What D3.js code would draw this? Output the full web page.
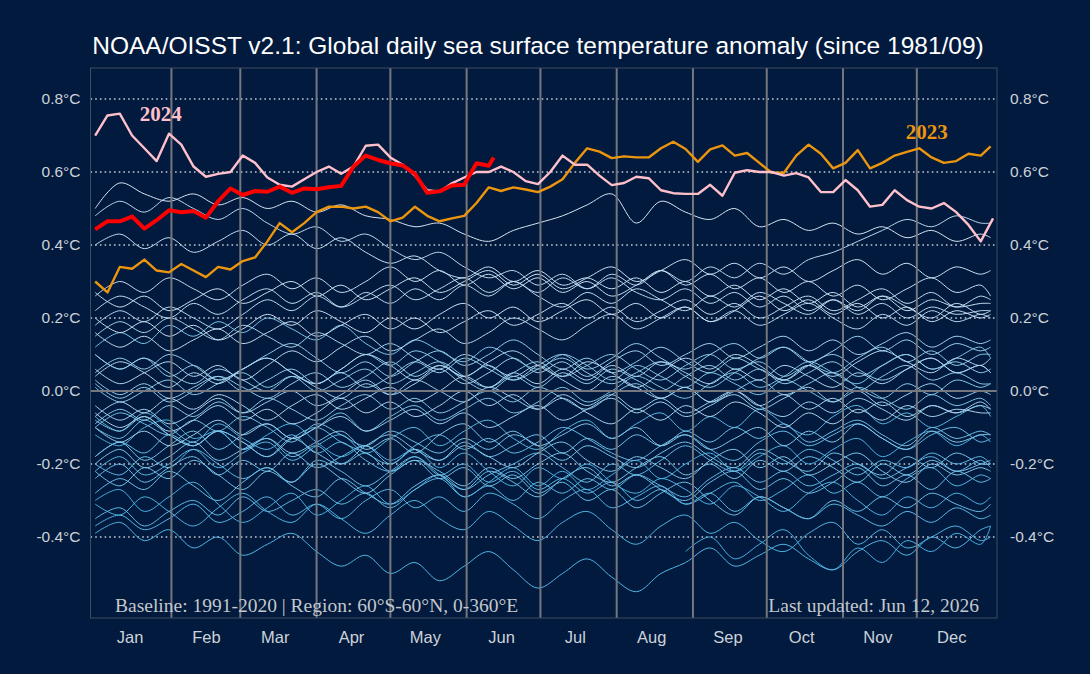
<!DOCTYPE html>
<html>
<head>
<meta charset="utf-8">
<script src="https://cdn.jsdelivr.net/npm/d3@7"></script>
<style>
  html, body { margin: 0; padding: 0; background: #011a3d; }
  svg { display: block; }
</style>
</head>
<body>
<svg id="chart" width="1090" height="674"></svg>
<script>
// ---- data (day = days since Jan 1) ----
const monthNames = ["Jan", "Feb", "Mar", "Apr", "May", "Jun", "Jul", "Aug", "Sep", "Oct", "Nov", "Dec"];
const monthStarts = [0, 31, 59, 90, 120, 151, 181, 212, 243, 273, 304, 334];
const yTicks = [-0.4, -0.2, 0, 0.2, 0.4, 0.6, 0.8];

// background years, read every 10 days, in hundredths of a degree
const bgDays = [0,10,20,30,40,50,60,70,80,90,100,110,120,130,140,150,160,170,180,190,200,210,220,230,240,250,260,270,280,290,300,310,320,330,340,350,360,364];
const bgYears = [1981, 1982, 1983, 1984, 1985, 1986, 1987, 1988, 1989, 1990, 1991, 1992, 1993, 1994, 1995, 1996, 1997, 1998, 1999, 2000,
  2001, 2002, 2003, 2004, 2005, 2006, 2007, 2008, 2009, 2010, 2011, 2012, 2013, 2014, 2015, 2016, 2017, 2018, 2019, 2020, 2021, 2022, 2025];
const N = null;
const bgCenti = [
  [N,N,N,N,N,N,N,N,N,N,N,N,N,N,N,N,N,N,N,N,N,N,N,N,-44,-40,-46,-42,-38,-45,-49,-43,-47,-41,-44,-39,-42,-37],
  [-30,-27,-33,-29,-25,-31,-36,-32,-28,-34,-30,-26,-31,-27,-23,-29,-25,-21,-26,-22,-27,-23,-19,-24,-20,-17,-22,-18,-15,-20,-16,-13,-18,-14,-11,-15,-12,-14],
  [-12,-15,-10,-8,-13,-11,-16,-12,-9,-14,-18,-15,-19,-16,-21,-17,-22,-26,-21,-24,-20,-25,-28,-24,-27,-31,-26,-29,-33,-28,-25,-30,-34,-29,-32,-28,-31,-29],
  [-31,-34,-29,-33,-37,-32,-28,-33,-36,-31,-35,-39,-34,-30,-35,-38,-33,-37,-41,-36,-33,-38,-42,-37,-34,-39,-36,-41,-44,-39,-36,-42,-38,-43,-40,-37,-41,-40],
  [-39,-36,-41,-38,-43,-40,-45,-42,-39,-44,-48,-45,-50,-47,-52,-48,-44,-49,-54,-50,-46,-51,-55,-50,-47,-43,-48,-45,-42,-46,-49,-44,-41,-45,-40,-43,-38,-37],
  [-37,-34,-38,-35,-31,-36,-33,-29,-34,-31,-35,-30,-27,-32,-29,-33,-28,-31,-35,-30,-27,-32,-29,-26,-31,-28,-25,-30,-27,-23,-28,-25,-29,-24,-21,-26,-23,-24],
  [-22,-18,-23,-20,-16,-21,-17,-14,-19,-15,-12,-17,-13,-10,-15,-11,-8,-13,-16,-11,-8,-13,-9,-6,-11,-7,-10,-5,-9,-12,-7,-4,-9,-6,-10,-7,-4,-7],
  [-7,-11,-6,-10,-14,-9,-13,-16,-12,-17,-14,-19,-22,-18,-23,-20,-25,-22,-27,-24,-28,-25,-30,-27,-31,-28,-33,-29,-32,-35,-31,-34,-37,-33,-36,-32,-35,-34],
  [-35,-32,-37,-33,-30,-34,-29,-33,-30,-27,-31,-28,-32,-27,-24,-29,-26,-30,-25,-28,-24,-27,-23,-26,-29,-24,-21,-25,-22,-26,-23,-20,-24,-21,-18,-22,-19,-21],
  [-20,-23,-18,-21,-16,-20,-24,-21,-25,-19,-22,-26,-22,-18,-23,-27,-23,-20,-17,-21,-25,-20,-23,-19,-15,-19,-22,-17,-20,-16,-19,-23,-19,-21,-17,-20,-18,-20],
  [-18,-14,-17,-12,-15,-11,-14,-18,-13,-10,-14,-17,-20,-15,-12,-16,-13,-17,-14,-10,-13,-17,-19,-15,-12,-16,-19,-14,-11,-15,-12,-9,-13,-16,-12,-10,-14,-13],
  [-10,-13,-8,-12,-15,-11,-16,-13,-18,-15,-20,-17,-22,-19,-24,-21,-26,-23,-28,-25,-30,-27,-32,-28,-25,-30,-34,-29,-32,-35,-30,-33,-29,-32,-28,-31,-33,-31],
  [-28,-24,-27,-22,-26,-30,-25,-21,-26,-29,-24,-28,-31,-26,-23,-27,-22,-25,-29,-24,-21,-26,-23,-27,-30,-25,-22,-27,-24,-28,-25,-21,-26,-23,-27,-22,-25,-24],
  [-24,-20,-25,-21,-18,-23,-19,-22,-17,-21,-18,-15,-20,-16,-19,-14,-18,-15,-12,-17,-13,-16,-12,-15,-11,-14,-10,-13,-9,-14,-11,-8,-12,-15,-10,-13,-11,-12],
  [-10,-6,-9,-12,-8,-11,-7,-10,-14,-9,-12,-15,-11,-14,-17,-13,-16,-12,-15,-19,-15,-18,-21,-17,-14,-18,-21,-16,-19,-22,-17,-20,-23,-18,-21,-17,-20,-20],
  [-22,-26,-21,-24,-19,-23,-27,-22,-25,-20,-24,-28,-23,-19,-22,-26,-21,-24,-20,-17,-22,-25,-21,-18,-23,-20,-24,-19,-22,-18,-21,-25,-20,-23,-19,-22,-20,-19],
  [-18,-14,-19,-15,-11,-16,-12,-9,-13,-10,-6,-11,-7,-4,-8,-5,-2,-6,-3,1,-3,0,4,1,-2,2,5,1,4,8,5,2,7,10,6,9,12,9],
  [12,16,13,18,15,19,16,20,17,14,18,13,10,14,11,8,12,9,6,10,7,3,7,4,1,5,2,-1,3,0,-3,1,-2,-5,-1,-4,-2,-4],
  [-8,-11,-7,-12,-15,-11,-14,-18,-13,-17,-20,-15,-12,-16,-19,-15,-18,-21,-17,-14,-19,-22,-18,-21,-24,-19,-16,-21,-18,-23,-20,-17,-22,-25,-20,-23,-21,-22],
  [-20,-16,-21,-18,-14,-19,-16,-13,-17,-14,-11,-16,-13,-17,-12,-9,-14,-11,-15,-12,-9,-13,-10,-15,-12,-16,-13,-10,-15,-11,-14,-9,-13,-16,-11,-14,-12,-12],
  [-9,-5,-8,-4,-7,-3,-6,-2,-5,-8,-4,-1,-5,-2,-6,-3,0,-3,1,-2,-5,-1,2,-2,1,-3,0,3,-1,2,5,1,-2,2,-1,3,1,2],
  [1,-3,0,3,-1,2,5,1,4,0,3,6,2,5,8,4,1,5,8,4,7,10,6,3,7,10,6,9,12,8,5,9,12,8,11,7,10,10],
  [10,6,9,4,7,3,6,9,5,2,6,10,7,11,8,4,7,3,6,9,5,2,5,8,4,1,5,8,4,7,3,0,4,7,3,5,2,2],
  [2,-2,1,-3,0,4,1,-2,2,5,1,4,8,4,7,3,0,4,1,5,2,6,3,0,4,7,3,6,2,5,8,4,7,10,6,8,5,6],
  [5,9,6,10,7,3,6,10,13,9,5,8,4,8,11,7,10,14,10,6,9,5,8,12,8,5,9,6,3,7,10,6,3,6,9,5,7,5],
  [3,-1,2,-2,1,4,0,3,6,2,5,1,4,8,5,9,6,3,7,10,6,9,13,9,6,10,13,9,12,8,11,15,11,14,10,13,11,12],
  [10,6,9,5,2,6,3,0,4,1,-2,2,-1,3,0,-3,1,-2,-5,-1,-4,-1,-5,-2,-6,-3,0,-4,-7,-3,-6,-2,-5,-8,-4,-6,-4,-5],
  [-10,-14,-11,-15,-12,-8,-12,-9,-13,-10,-7,-11,-8,-5,-9,-6,-10,-7,-4,-8,-5,-2,-6,-3,-7,-4,-1,-5,-2,1,-3,0,-4,-1,2,-2,0,-1],
  [-4,-8,-5,-9,-6,-2,-6,-3,0,-4,-1,3,-1,2,6,2,5,9,5,8,4,8,11,7,10,13,9,12,15,11,14,10,13,16,12,15,13,14],
  [15,19,16,20,17,14,18,15,12,16,13,10,13,9,6,10,7,4,7,3,0,4,1,-2,1,-3,0,-4,-1,-5,-2,-6,-3,-7,-4,-6,-3,-5],
  [-6,-10,-7,-11,-8,-4,-8,-5,-9,-6,-2,-6,-3,-7,-4,0,-4,-1,-5,-2,-6,-9,-5,-8,-4,-7,-3,-6,-10,-6,-9,-5,-8,-4,-7,-5,-6,-6],
  [-7,-3,-6,-2,-5,-1,-4,-8,-4,-1,-5,-2,1,-3,0,4,1,5,2,6,3,7,4,8,5,2,6,3,7,4,1,5,2,6,9,5,7,5],
  [4,8,5,1,5,2,6,9,5,2,6,10,7,3,7,4,8,11,7,4,8,5,1,5,9,6,10,7,3,7,4,8,11,8,5,9,7,9],
  [6,2,5,8,4,7,3,7,11,8,12,15,11,14,17,13,16,20,17,14,18,21,17,20,23,19,22,18,21,24,20,17,21,18,22,19,21,20],
  [18,22,19,23,20,17,21,25,22,26,23,27,24,28,25,29,26,30,27,31,28,32,29,33,30,34,31,35,32,36,38,41,44,47,45,48,46,46],
  [48,52,49,53,50,47,50,46,43,45,41,43,39,36,38,34,31,33,29,32,28,31,27,25,28,24,27,23,26,22,25,21,24,20,23,21,22,22],
  [22,26,23,20,24,21,25,28,24,27,23,26,29,25,28,31,27,30,26,23,27,24,28,25,22,26,23,27,24,21,25,22,26,23,20,24,21,22],
  [16,12,15,11,14,17,13,16,19,15,18,21,17,20,16,19,22,18,21,24,20,23,19,22,25,21,24,20,23,26,22,25,28,24,27,23,26,25],
  [26,30,27,31,28,25,29,32,28,31,27,30,34,30,33,29,32,28,31,27,30,26,29,33,29,32,28,31,27,30,26,29,25,28,31,27,29,26],
  [40,43,39,42,38,41,44,40,43,39,42,38,35,37,33,31,34,30,33,29,31,28,31,27,30,26,29,25,28,24,27,23,26,22,25,23,24,24],
  [20,16,19,15,18,14,17,21,18,22,19,16,20,17,21,24,20,23,19,22,25,21,24,20,23,19,22,26,22,25,21,24,20,23,19,22,20,21],
  [27,23,26,22,25,28,24,27,30,26,29,25,28,31,27,30,33,29,32,28,31,34,30,33,36,32,35,31,34,30,33,36,32,35,31,34,32,33],
  [50,57,54,52,54,51,53,50,52,49,51,48,47,45,46,43,41,44,46,48,51,54,46,52,49,47,50,45,47,44,46,43,45,42,44,41,43,42]
];

// highlighted years, read every 5 days, in °C
const days2023 = d3.range(0, 361, 5).concat([364]);
const vals2023 = [0.30,0.27,0.34,0.335,0.36,0.33,0.325,0.348,0.33,0.312,0.34,0.333,0.356,0.366,0.41,0.46,0.435,0.46,0.49,0.505,
  0.505,0.50,0.505,0.49,0.465,0.475,0.505,0.48,0.465,0.473,0.48,0.515,0.558,0.548,0.558,0.552,0.545,0.56,0.58,0.625,
  0.665,0.656,0.638,0.643,0.64,0.64,0.665,0.683,0.663,0.628,0.662,0.673,0.645,0.652,0.625,0.598,0.598,0.645,0.675,0.65,
  0.61,0.625,0.66,0.61,0.625,0.645,0.655,0.665,0.64,0.625,0.63,0.65,0.645,0.67];

const days2024 = d3.range(0, 366, 5);
const vals2024 = [0.70,0.755,0.76,0.70,0.665,0.63,0.705,0.675,0.615,0.587,0.595,0.60,0.645,0.625,0.585,0.565,0.56,0.58,0.60,0.615,
  0.595,0.615,0.672,0.675,0.64,0.62,0.59,0.55,0.546,0.569,0.585,0.60,0.60,0.615,0.60,0.575,0.567,0.60,0.645,0.62,
  0.62,0.59,0.564,0.57,0.587,0.583,0.55,0.542,0.54,0.54,0.565,0.535,0.598,0.605,0.60,0.60,0.59,0.597,0.585,0.545,
  0.545,0.578,0.55,0.505,0.51,0.55,0.523,0.505,0.50,0.515,0.49,0.455,0.41,0.473];

const daysNow = d3.range(0, 161, 5).concat([162]);
const valsNow = [0.443,0.465,0.465,0.478,0.445,0.468,0.495,0.49,0.493,0.475,0.52,0.555,0.537,0.548,0.546,0.56,0.543,0.555,0.553,0.558,
  0.562,0.615,0.645,0.633,0.624,0.618,0.595,0.543,0.547,0.563,0.565,0.624,0.617,0.64];

// ---- chart ----
const svg = d3.select("#chart");
const W = 1090, H = 674;
const plotL = 90.5, plotR = 997, plotT = 68, plotB = 618;
const bgColor = "#011a3d";

const x = d3.scaleLinear().domain([-1.9, 366.6]).range([plotL, plotR]);
const y = d3.scaleLinear().domain([-0.622, 0.885]).range([plotB, plotT]);

svg.append("rect").attr("width", W).attr("height", H).attr("fill", bgColor);

svg.append("text")
  .attr("x", 538).attr("y", 54)
  .attr("text-anchor", "middle")
  .attr("fill", "#ffffff")
  .style("font-family", "'Liberation Sans', Arial, sans-serif")
  .style("font-size", "24.5px")
  .text("NOAA/OISST v2.1: Global daily sea surface temperature anomaly (since 1981/09)");

// dotted grid
svg.append("g").selectAll("line")
  .data(yTicks.filter(d => d !== 0))
  .join("line")
  .attr("x1", plotL).attr("x2", plotR)
  .attr("y1", d => y(d)).attr("y2", d => y(d))
  .attr("stroke", "#c4cad6")
  .attr("stroke-width", 1.6)
  .attr("stroke-dasharray", "1.6,3.1");

// background years
const lineBg = d3.line()
  .defined(d => d[1] !== null)
  .x(d => x(d[0])).y(d => y(d[1] / 100))
  .curve(d3.curveCatmullRom);
const yearColor = d3.scaleLinear()
  .domain([1981, 2025])
  .range(["#45afe2", "#d8e3f3"])
  .interpolate(d3.interpolateRgb);

svg.append("g").selectAll("path")
  .data(bgCenti.map((vals, i) => ({ year: bgYears[i], pts: d3.zip(bgDays, vals) })))
  .join("path")
  .attr("d", d => lineBg(d.pts))
  .attr("fill", "none")
  .attr("stroke", d => yearColor(d.year))
  .attr("stroke-width", 1);

// month separators and zero line
svg.append("g").selectAll("line")
  .data(monthStarts.slice(1))
  .join("line")
  .attr("x1", d => x(d)).attr("x2", d => x(d))
  .attr("y1", plotT).attr("y2", plotB)
  .attr("stroke", "#74777d")
  .attr("stroke-width", 2);

svg.append("line")
  .attr("x1", plotL).attr("x2", plotR)
  .attr("y1", y(0)).attr("y2", y(0))
  .attr("stroke", "#74777d")
  .attr("stroke-width", 2);

// panel border
svg.append("rect")
  .attr("x", plotL).attr("y", plotT)
  .attr("width", plotR - plotL).attr("height", plotB - plotT)
  .attr("fill", "none")
  .attr("stroke", "#404c60")
  .attr("stroke-width", 1);

// highlighted years
const lineHi = d3.line().x(d => x(d[0])).y(d => y(d[1]));
const highlights = [
  { pts: d3.zip(days2023, vals2023), color: "#ec950f", width: 2.4 },
  { pts: d3.zip(days2024, vals2024), color: "#ffc0cb", width: 2.4 },
  { pts: d3.zip(daysNow, valsNow), color: "#ff0000", width: 4 }
];
svg.append("g").selectAll("path")
  .data(highlights)
  .join("path")
  .attr("d", d => lineHi(d.pts))
  .attr("fill", "none")
  .attr("stroke", d => d.color)
  .attr("stroke-width", d => d.width)
  .attr("stroke-linejoin", "round");

// year labels
const yearLabels = [
  { text: "2024", day: 26.7, val: 0.74, color: "#ffc0cb" },
  { text: "2023", day: 338, val: 0.69, color: "#ec950f" }
];
svg.append("g").selectAll("text")
  .data(yearLabels)
  .join("text")
  .attr("x", d => x(d.day)).attr("y", d => y(d.val))
  .attr("text-anchor", "middle")
  .attr("fill", d => d.color)
  .style("font-family", "'Liberation Serif', 'Times New Roman', serif")
  .style("font-weight", "bold")
  .style("font-size", "21px")
  .text(d => d.text);

// axes
const fmt = d => d.toFixed(1) + "°C";
const styleAxis = g => {
  g.select(".domain").remove();
  g.selectAll("text")
    .attr("fill", "#cdd2da")
    .style("font-family", "'Liberation Sans', Arial, sans-serif")
    .style("font-size", "15.5px");
};
svg.append("g")
  .attr("transform", `translate(${plotL},0)`)
  .call(d3.axisLeft(y).tickValues(yTicks).tickFormat(fmt).tickSize(0).tickPadding(10))
  .call(styleAxis);
svg.append("g")
  .attr("transform", `translate(${plotR},0)`)
  .call(d3.axisRight(y).tickValues(yTicks).tickFormat(fmt).tickSize(0).tickPadding(13))
  .call(styleAxis);
svg.append("g")
  .attr("transform", `translate(0,${plotB})`)
  .call(d3.axisBottom(x).tickValues(monthStarts.map(d => d + 14)).tickFormat((d, i) => monthNames[i]).tickSize(0).tickPadding(13.5))
  .call(styleAxis)
  .call(g => g.selectAll("text").style("font-size", "16.5px"));

// notes
const notes = svg.append("g")
  .attr("fill", "#c4c7cc")
  .style("font-family", "'Liberation Serif', 'Times New Roman', serif")
  .style("font-size", "19.5px");
notes.append("text")
  .attr("x", plotL + 24.5).attr("y", plotB - 6)
  .text("Baseline: 1991-2020 | Region: 60°S-60°N, 0-360°E");
notes.append("text")
  .attr("x", plotR - 18).attr("y", plotB - 6)
  .attr("text-anchor", "end")
  .text("Last updated: Jun 12, 2026");
</script>
</body>
</html>
